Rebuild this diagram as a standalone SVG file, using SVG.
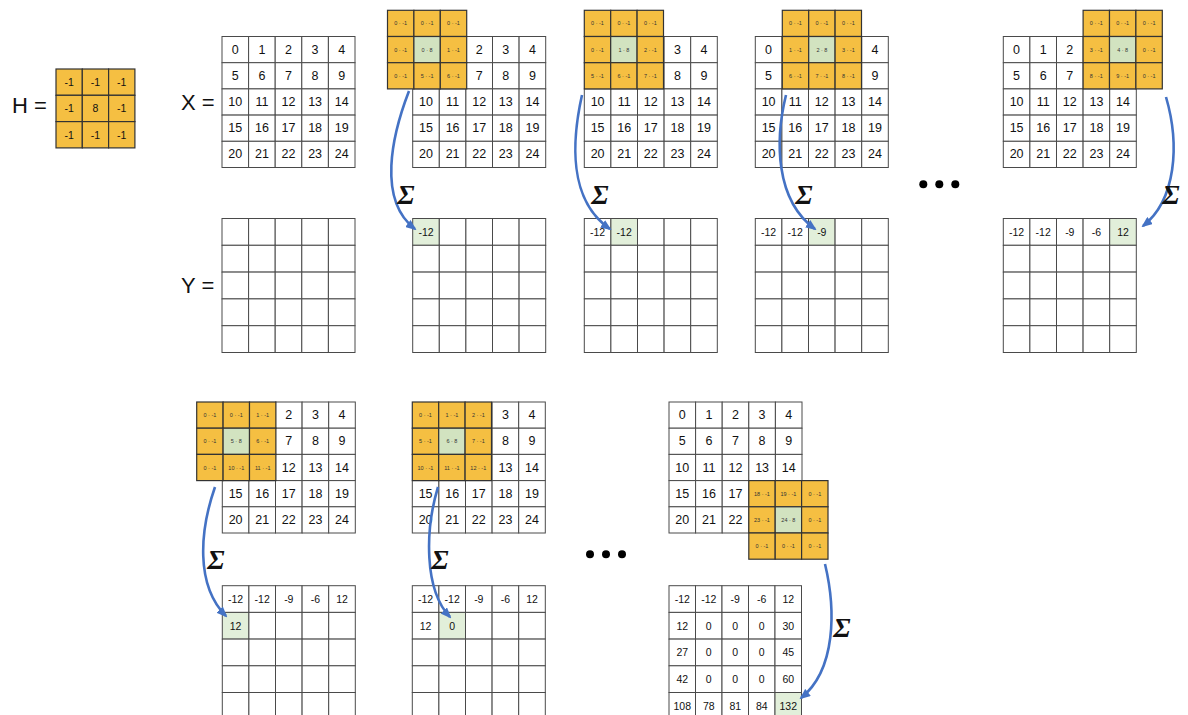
<svg xmlns="http://www.w3.org/2000/svg" width="1188" height="715" viewBox="0 0 1188 715">
<style>
.c{fill:#fff;stroke:#4a4a4a;stroke-width:1}
.g{fill:#E2EFDA;stroke:#4a4a4a;stroke-width:1}
.k{fill:#F5BF42;stroke:#333;stroke-width:1.2}
.kc{fill:#D2E3C0;stroke:#333;stroke-width:1.2}
text{font-family:"Liberation Sans",Arial,sans-serif;fill:#111;text-anchor:middle;dominant-baseline:central}
.n{font-size:12.5px}
.y{font-size:10.5px}
.s{font-size:5.5px;fill:#333}
.eq{font-size:22px;text-anchor:start;dominant-baseline:auto}
.sig{font-family:"Liberation Serif","Times New Roman",serif;font-style:italic;font-weight:bold;font-size:28px;dominant-baseline:auto}
.a{fill:none;stroke:#4472C4;stroke-width:2.6;marker-end:url(#ah)}
.dot{fill:#000}
</style>
<defs>
<marker id="ah" markerWidth="11" markerHeight="9" refX="9" refY="4.5" orient="auto" markerUnits="userSpaceOnUse"><path d="M0,0 L11,4.5 L0,9 z" fill="#4472C4"/></marker>
</defs>

<!-- labels -->
<text class="eq" x="12" y="113">H =</text>
<text class="eq" x="181" y="110">X =</text>
<text class="eq" x="181" y="293">Y =</text>

<!-- H kernel -->
<g id="H" transform="translate(56,69)">
<rect class="k" x="0" y="0" width="26.3" height="26.3"/><rect class="k" x="26.3" y="0" width="26.3" height="26.3"/><rect class="k" x="52.6" y="0" width="26.3" height="26.3"/>
<rect class="k" x="0" y="26.3" width="26.3" height="26.3"/><rect class="k" x="26.3" y="26.3" width="26.3" height="26.3"/><rect class="k" x="52.6" y="26.3" width="26.3" height="26.3"/>
<rect class="k" x="0" y="52.6" width="26.3" height="26.3"/><rect class="k" x="26.3" y="52.6" width="26.3" height="26.3"/><rect class="k" x="52.6" y="52.6" width="26.3" height="26.3"/>
<text class="y" x="13.15" y="13.15">-1</text><text class="y" x="39.45" y="13.15">-1</text><text class="y" x="65.75" y="13.15">-1</text>
<text class="y" x="13.15" y="39.45">-1</text><text class="y" x="39.45" y="39.45">8</text><text class="y" x="65.75" y="39.45">-1</text>
<text class="y" x="13.15" y="65.75">-1</text><text class="y" x="39.45" y="65.75">-1</text><text class="y" x="65.75" y="65.75">-1</text>
</g>

<!-- X main -->
<g id="X0" transform="translate(222,36.5)">
<rect class="c" x="0" y="0" width="26.6" height="26.2"/><rect class="c" x="26.6" y="0" width="26.6" height="26.2"/><rect class="c" x="53.2" y="0" width="26.6" height="26.2"/><rect class="c" x="79.8" y="0" width="26.6" height="26.2"/><rect class="c" x="106.4" y="0" width="26.6" height="26.2"/>
<rect class="c" x="0" y="26.2" width="26.6" height="26.2"/><rect class="c" x="26.6" y="26.2" width="26.6" height="26.2"/><rect class="c" x="53.2" y="26.2" width="26.6" height="26.2"/><rect class="c" x="79.8" y="26.2" width="26.6" height="26.2"/><rect class="c" x="106.4" y="26.2" width="26.6" height="26.2"/>
<rect class="c" x="0" y="52.4" width="26.6" height="26.2"/><rect class="c" x="26.6" y="52.4" width="26.6" height="26.2"/><rect class="c" x="53.2" y="52.4" width="26.6" height="26.2"/><rect class="c" x="79.8" y="52.4" width="26.6" height="26.2"/><rect class="c" x="106.4" y="52.4" width="26.6" height="26.2"/>
<rect class="c" x="0" y="78.6" width="26.6" height="26.2"/><rect class="c" x="26.6" y="78.6" width="26.6" height="26.2"/><rect class="c" x="53.2" y="78.6" width="26.6" height="26.2"/><rect class="c" x="79.8" y="78.6" width="26.6" height="26.2"/><rect class="c" x="106.4" y="78.6" width="26.6" height="26.2"/>
<rect class="c" x="0" y="104.8" width="26.6" height="26.2"/><rect class="c" x="26.6" y="104.8" width="26.6" height="26.2"/><rect class="c" x="53.2" y="104.8" width="26.6" height="26.2"/><rect class="c" x="79.8" y="104.8" width="26.6" height="26.2"/><rect class="c" x="106.4" y="104.8" width="26.6" height="26.2"/>
<text class="n" x="13.3" y="13.1">0</text><text class="n" x="39.9" y="13.1">1</text><text class="n" x="66.5" y="13.1">2</text><text class="n" x="93.1" y="13.1">3</text><text class="n" x="119.7" y="13.1">4</text>
<text class="n" x="13.3" y="39.3">5</text><text class="n" x="39.9" y="39.3">6</text><text class="n" x="66.5" y="39.3">7</text><text class="n" x="93.1" y="39.3">8</text><text class="n" x="119.7" y="39.3">9</text>
<text class="n" x="13.3" y="65.5">10</text><text class="n" x="39.9" y="65.5">11</text><text class="n" x="66.5" y="65.5">12</text><text class="n" x="93.1" y="65.5">13</text><text class="n" x="119.7" y="65.5">14</text>
<text class="n" x="13.3" y="91.7">15</text><text class="n" x="39.9" y="91.7">16</text><text class="n" x="66.5" y="91.7">17</text><text class="n" x="93.1" y="91.7">18</text><text class="n" x="119.7" y="91.7">19</text>
<text class="n" x="13.3" y="117.9">20</text><text class="n" x="39.9" y="117.9">21</text><text class="n" x="66.5" y="117.9">22</text><text class="n" x="93.1" y="117.9">23</text><text class="n" x="119.7" y="117.9">24</text>
</g>

<!-- X panel 1 -->
<g id="X1" transform="translate(412.7,36.5)">
<rect class="c" x="53.2" y="0" width="26.6" height="26.2"/><rect class="c" x="79.8" y="0" width="26.6" height="26.2"/><rect class="c" x="106.4" y="0" width="26.6" height="26.2"/>
<rect class="c" x="53.2" y="26.2" width="26.6" height="26.2"/><rect class="c" x="79.8" y="26.2" width="26.6" height="26.2"/><rect class="c" x="106.4" y="26.2" width="26.6" height="26.2"/>
<rect class="c" x="0" y="52.4" width="26.6" height="26.2"/><rect class="c" x="26.6" y="52.4" width="26.6" height="26.2"/><rect class="c" x="53.2" y="52.4" width="26.6" height="26.2"/><rect class="c" x="79.8" y="52.4" width="26.6" height="26.2"/><rect class="c" x="106.4" y="52.4" width="26.6" height="26.2"/>
<rect class="c" x="0" y="78.6" width="26.6" height="26.2"/><rect class="c" x="26.6" y="78.6" width="26.6" height="26.2"/><rect class="c" x="53.2" y="78.6" width="26.6" height="26.2"/><rect class="c" x="79.8" y="78.6" width="26.6" height="26.2"/><rect class="c" x="106.4" y="78.6" width="26.6" height="26.2"/>
<rect class="c" x="0" y="104.8" width="26.6" height="26.2"/><rect class="c" x="26.6" y="104.8" width="26.6" height="26.2"/><rect class="c" x="53.2" y="104.8" width="26.6" height="26.2"/><rect class="c" x="79.8" y="104.8" width="26.6" height="26.2"/><rect class="c" x="106.4" y="104.8" width="26.6" height="26.2"/>
<text class="n" x="66.5" y="13.1">2</text><text class="n" x="93.1" y="13.1">3</text><text class="n" x="119.7" y="13.1">4</text>
<text class="n" x="66.5" y="39.3">7</text><text class="n" x="93.1" y="39.3">8</text><text class="n" x="119.7" y="39.3">9</text>
<text class="n" x="13.3" y="65.5">10</text><text class="n" x="39.9" y="65.5">11</text><text class="n" x="66.5" y="65.5">12</text><text class="n" x="93.1" y="65.5">13</text><text class="n" x="119.7" y="65.5">14</text>
<text class="n" x="13.3" y="91.7">15</text><text class="n" x="39.9" y="91.7">16</text><text class="n" x="66.5" y="91.7">17</text><text class="n" x="93.1" y="91.7">18</text><text class="n" x="119.7" y="91.7">19</text>
<text class="n" x="13.3" y="117.9">20</text><text class="n" x="39.9" y="117.9">21</text><text class="n" x="66.5" y="117.9">22</text><text class="n" x="93.1" y="117.9">23</text><text class="n" x="119.7" y="117.9">24</text>
</g>
<g id="K1" transform="translate(387.5,10.3)">
<rect class="k" x="0" y="0" width="26.4" height="26.2"/><rect class="k" x="26.4" y="0" width="26.4" height="26.2"/><rect class="k" x="52.8" y="0" width="26.4" height="26.2"/>
<rect class="k" x="0" y="26.2" width="26.4" height="26.2"/><rect class="kc" x="26.4" y="26.2" width="26.4" height="26.2"/><rect class="k" x="52.8" y="26.2" width="26.4" height="26.2"/>
<rect class="k" x="0" y="52.4" width="26.4" height="26.2"/><rect class="k" x="26.4" y="52.4" width="26.4" height="26.2"/><rect class="k" x="52.8" y="52.4" width="26.4" height="26.2"/>
<text class="s" x="13.2" y="13.1">0 · -1</text><text class="s" x="39.6" y="13.1">0 · -1</text><text class="s" x="66" y="13.1">0 · -1</text>
<text class="s" x="13.2" y="39.3">0 · -1</text><text class="s" x="39.6" y="39.3">0 · 8</text><text class="s" x="66" y="39.3">1 · -1</text>
<text class="s" x="13.2" y="65.5">0 · -1</text><text class="s" x="39.6" y="65.5">5 · -1</text><text class="s" x="66" y="65.5">6 · -1</text>
</g>

<!-- X panel 2 -->
<g id="X2" transform="translate(584.3,36.5)">
<rect class="c" x="79.8" y="0" width="26.6" height="26.2"/><rect class="c" x="106.4" y="0" width="26.6" height="26.2"/>
<rect class="c" x="79.8" y="26.2" width="26.6" height="26.2"/><rect class="c" x="106.4" y="26.2" width="26.6" height="26.2"/>
<rect class="c" x="0" y="52.4" width="26.6" height="26.2"/><rect class="c" x="26.6" y="52.4" width="26.6" height="26.2"/><rect class="c" x="53.2" y="52.4" width="26.6" height="26.2"/><rect class="c" x="79.8" y="52.4" width="26.6" height="26.2"/><rect class="c" x="106.4" y="52.4" width="26.6" height="26.2"/>
<rect class="c" x="0" y="78.6" width="26.6" height="26.2"/><rect class="c" x="26.6" y="78.6" width="26.6" height="26.2"/><rect class="c" x="53.2" y="78.6" width="26.6" height="26.2"/><rect class="c" x="79.8" y="78.6" width="26.6" height="26.2"/><rect class="c" x="106.4" y="78.6" width="26.6" height="26.2"/>
<rect class="c" x="0" y="104.8" width="26.6" height="26.2"/><rect class="c" x="26.6" y="104.8" width="26.6" height="26.2"/><rect class="c" x="53.2" y="104.8" width="26.6" height="26.2"/><rect class="c" x="79.8" y="104.8" width="26.6" height="26.2"/><rect class="c" x="106.4" y="104.8" width="26.6" height="26.2"/>
<text class="n" x="93.1" y="13.1">3</text><text class="n" x="119.7" y="13.1">4</text>
<text class="n" x="93.1" y="39.3">8</text><text class="n" x="119.7" y="39.3">9</text>
<text class="n" x="13.3" y="65.5">10</text><text class="n" x="39.9" y="65.5">11</text><text class="n" x="66.5" y="65.5">12</text><text class="n" x="93.1" y="65.5">13</text><text class="n" x="119.7" y="65.5">14</text>
<text class="n" x="13.3" y="91.7">15</text><text class="n" x="39.9" y="91.7">16</text><text class="n" x="66.5" y="91.7">17</text><text class="n" x="93.1" y="91.7">18</text><text class="n" x="119.7" y="91.7">19</text>
<text class="n" x="13.3" y="117.9">20</text><text class="n" x="39.9" y="117.9">21</text><text class="n" x="66.5" y="117.9">22</text><text class="n" x="93.1" y="117.9">23</text><text class="n" x="119.7" y="117.9">24</text>
</g>
<g id="K2" transform="translate(584.3,10.3)">
<rect class="k" x="0" y="0" width="26.4" height="26.2"/><rect class="k" x="26.4" y="0" width="26.4" height="26.2"/><rect class="k" x="52.8" y="0" width="26.4" height="26.2"/>
<rect class="k" x="0" y="26.2" width="26.4" height="26.2"/><rect class="kc" x="26.4" y="26.2" width="26.4" height="26.2"/><rect class="k" x="52.8" y="26.2" width="26.4" height="26.2"/>
<rect class="k" x="0" y="52.4" width="26.4" height="26.2"/><rect class="k" x="26.4" y="52.4" width="26.4" height="26.2"/><rect class="k" x="52.8" y="52.4" width="26.4" height="26.2"/>
<text class="s" x="13.2" y="13.1">0 · -1</text><text class="s" x="39.6" y="13.1">0 · -1</text><text class="s" x="66" y="13.1">0 · -1</text>
<text class="s" x="13.2" y="39.3">0 · -1</text><text class="s" x="39.6" y="39.3">1 · 8</text><text class="s" x="66" y="39.3">2 · -1</text>
<text class="s" x="13.2" y="65.5">5 · -1</text><text class="s" x="39.6" y="65.5">6 · -1</text><text class="s" x="66" y="65.5">7 · -1</text>
</g>

<!-- X panel 3 -->
<g id="X3" transform="translate(755.3,36.5)">
<rect class="c" x="0" y="0" width="26.6" height="26.2"/><rect class="c" x="106.4" y="0" width="26.6" height="26.2"/>
<rect class="c" x="0" y="26.2" width="26.6" height="26.2"/><rect class="c" x="106.4" y="26.2" width="26.6" height="26.2"/>
<rect class="c" x="0" y="52.4" width="26.6" height="26.2"/><rect class="c" x="26.6" y="52.4" width="26.6" height="26.2"/><rect class="c" x="53.2" y="52.4" width="26.6" height="26.2"/><rect class="c" x="79.8" y="52.4" width="26.6" height="26.2"/><rect class="c" x="106.4" y="52.4" width="26.6" height="26.2"/>
<rect class="c" x="0" y="78.6" width="26.6" height="26.2"/><rect class="c" x="26.6" y="78.6" width="26.6" height="26.2"/><rect class="c" x="53.2" y="78.6" width="26.6" height="26.2"/><rect class="c" x="79.8" y="78.6" width="26.6" height="26.2"/><rect class="c" x="106.4" y="78.6" width="26.6" height="26.2"/>
<rect class="c" x="0" y="104.8" width="26.6" height="26.2"/><rect class="c" x="26.6" y="104.8" width="26.6" height="26.2"/><rect class="c" x="53.2" y="104.8" width="26.6" height="26.2"/><rect class="c" x="79.8" y="104.8" width="26.6" height="26.2"/><rect class="c" x="106.4" y="104.8" width="26.6" height="26.2"/>
<text class="n" x="13.3" y="13.1">0</text><text class="n" x="119.7" y="13.1">4</text>
<text class="n" x="13.3" y="39.3">5</text><text class="n" x="119.7" y="39.3">9</text>
<text class="n" x="13.3" y="65.5">10</text><text class="n" x="39.9" y="65.5">11</text><text class="n" x="66.5" y="65.5">12</text><text class="n" x="93.1" y="65.5">13</text><text class="n" x="119.7" y="65.5">14</text>
<text class="n" x="13.3" y="91.7">15</text><text class="n" x="39.9" y="91.7">16</text><text class="n" x="66.5" y="91.7">17</text><text class="n" x="93.1" y="91.7">18</text><text class="n" x="119.7" y="91.7">19</text>
<text class="n" x="13.3" y="117.9">20</text><text class="n" x="39.9" y="117.9">21</text><text class="n" x="66.5" y="117.9">22</text><text class="n" x="93.1" y="117.9">23</text><text class="n" x="119.7" y="117.9">24</text>
</g>
<g id="K3" transform="translate(782.3,10.3)">
<rect class="k" x="0" y="0" width="26.4" height="26.2"/><rect class="k" x="26.4" y="0" width="26.4" height="26.2"/><rect class="k" x="52.8" y="0" width="26.4" height="26.2"/>
<rect class="k" x="0" y="26.2" width="26.4" height="26.2"/><rect class="kc" x="26.4" y="26.2" width="26.4" height="26.2"/><rect class="k" x="52.8" y="26.2" width="26.4" height="26.2"/>
<rect class="k" x="0" y="52.4" width="26.4" height="26.2"/><rect class="k" x="26.4" y="52.4" width="26.4" height="26.2"/><rect class="k" x="52.8" y="52.4" width="26.4" height="26.2"/>
<text class="s" x="13.2" y="13.1">0 · -1</text><text class="s" x="39.6" y="13.1">0 · -1</text><text class="s" x="66" y="13.1">0 · -1</text>
<text class="s" x="13.2" y="39.3">1 · -1</text><text class="s" x="39.6" y="39.3">2 · 8</text><text class="s" x="66" y="39.3">3 · -1</text>
<text class="s" x="13.2" y="65.5">6 · -1</text><text class="s" x="39.6" y="65.5">7 · -1</text><text class="s" x="66" y="65.5">8 · -1</text>
</g>

<!-- X panel 4 -->
<g id="X4" transform="translate(1003.3,36.5)">
<rect class="c" x="0" y="0" width="26.6" height="26.2"/><rect class="c" x="26.6" y="0" width="26.6" height="26.2"/><rect class="c" x="53.2" y="0" width="26.6" height="26.2"/>
<rect class="c" x="0" y="26.2" width="26.6" height="26.2"/><rect class="c" x="26.6" y="26.2" width="26.6" height="26.2"/><rect class="c" x="53.2" y="26.2" width="26.6" height="26.2"/>
<rect class="c" x="0" y="52.4" width="26.6" height="26.2"/><rect class="c" x="26.6" y="52.4" width="26.6" height="26.2"/><rect class="c" x="53.2" y="52.4" width="26.6" height="26.2"/><rect class="c" x="79.8" y="52.4" width="26.6" height="26.2"/><rect class="c" x="106.4" y="52.4" width="26.6" height="26.2"/>
<rect class="c" x="0" y="78.6" width="26.6" height="26.2"/><rect class="c" x="26.6" y="78.6" width="26.6" height="26.2"/><rect class="c" x="53.2" y="78.6" width="26.6" height="26.2"/><rect class="c" x="79.8" y="78.6" width="26.6" height="26.2"/><rect class="c" x="106.4" y="78.6" width="26.6" height="26.2"/>
<rect class="c" x="0" y="104.8" width="26.6" height="26.2"/><rect class="c" x="26.6" y="104.8" width="26.6" height="26.2"/><rect class="c" x="53.2" y="104.8" width="26.6" height="26.2"/><rect class="c" x="79.8" y="104.8" width="26.6" height="26.2"/><rect class="c" x="106.4" y="104.8" width="26.6" height="26.2"/>
<text class="n" x="13.3" y="13.1">0</text><text class="n" x="39.9" y="13.1">1</text><text class="n" x="66.5" y="13.1">2</text>
<text class="n" x="13.3" y="39.3">5</text><text class="n" x="39.9" y="39.3">6</text><text class="n" x="66.5" y="39.3">7</text>
<text class="n" x="13.3" y="65.5">10</text><text class="n" x="39.9" y="65.5">11</text><text class="n" x="66.5" y="65.5">12</text><text class="n" x="93.1" y="65.5">13</text><text class="n" x="119.7" y="65.5">14</text>
<text class="n" x="13.3" y="91.7">15</text><text class="n" x="39.9" y="91.7">16</text><text class="n" x="66.5" y="91.7">17</text><text class="n" x="93.1" y="91.7">18</text><text class="n" x="119.7" y="91.7">19</text>
<text class="n" x="13.3" y="117.9">20</text><text class="n" x="39.9" y="117.9">21</text><text class="n" x="66.5" y="117.9">22</text><text class="n" x="93.1" y="117.9">23</text><text class="n" x="119.7" y="117.9">24</text>
</g>
<g id="K4" transform="translate(1083.1,10.3)">
<rect class="k" x="0" y="0" width="26.4" height="26.2"/><rect class="k" x="26.4" y="0" width="26.4" height="26.2"/><rect class="k" x="52.8" y="0" width="26.4" height="26.2"/>
<rect class="k" x="0" y="26.2" width="26.4" height="26.2"/><rect class="kc" x="26.4" y="26.2" width="26.4" height="26.2"/><rect class="k" x="52.8" y="26.2" width="26.4" height="26.2"/>
<rect class="k" x="0" y="52.4" width="26.4" height="26.2"/><rect class="k" x="26.4" y="52.4" width="26.4" height="26.2"/><rect class="k" x="52.8" y="52.4" width="26.4" height="26.2"/>
<text class="s" x="13.2" y="13.1">0 · -1</text><text class="s" x="39.6" y="13.1">0 · -1</text><text class="s" x="66" y="13.1">0 · -1</text>
<text class="s" x="13.2" y="39.3">3 · -1</text><text class="s" x="39.6" y="39.3">4 · 8</text><text class="s" x="66" y="39.3">0 · -1</text>
<text class="s" x="13.2" y="65.5">8 · -1</text><text class="s" x="39.6" y="65.5">9 · -1</text><text class="s" x="66" y="65.5">0 · -1</text>
</g>

<!-- Y grids top -->
<g id="Y0" transform="translate(222,218.5)">
<rect class="c" x="0" y="0" width="26.6" height="26.8"/><rect class="c" x="26.6" y="0" width="26.6" height="26.8"/><rect class="c" x="53.2" y="0" width="26.6" height="26.8"/><rect class="c" x="79.8" y="0" width="26.6" height="26.8"/><rect class="c" x="106.4" y="0" width="26.6" height="26.8"/>
<rect class="c" x="0" y="26.8" width="26.6" height="26.8"/><rect class="c" x="26.6" y="26.8" width="26.6" height="26.8"/><rect class="c" x="53.2" y="26.8" width="26.6" height="26.8"/><rect class="c" x="79.8" y="26.8" width="26.6" height="26.8"/><rect class="c" x="106.4" y="26.8" width="26.6" height="26.8"/>
<rect class="c" x="0" y="53.6" width="26.6" height="26.8"/><rect class="c" x="26.6" y="53.6" width="26.6" height="26.8"/><rect class="c" x="53.2" y="53.6" width="26.6" height="26.8"/><rect class="c" x="79.8" y="53.6" width="26.6" height="26.8"/><rect class="c" x="106.4" y="53.6" width="26.6" height="26.8"/>
<rect class="c" x="0" y="80.4" width="26.6" height="26.8"/><rect class="c" x="26.6" y="80.4" width="26.6" height="26.8"/><rect class="c" x="53.2" y="80.4" width="26.6" height="26.8"/><rect class="c" x="79.8" y="80.4" width="26.6" height="26.8"/><rect class="c" x="106.4" y="80.4" width="26.6" height="26.8"/>
<rect class="c" x="0" y="107.2" width="26.6" height="26.8"/><rect class="c" x="26.6" y="107.2" width="26.6" height="26.8"/><rect class="c" x="53.2" y="107.2" width="26.6" height="26.8"/><rect class="c" x="79.8" y="107.2" width="26.6" height="26.8"/><rect class="c" x="106.4" y="107.2" width="26.6" height="26.8"/>
</g>
<g id="Y1" transform="translate(412.7,218.5)">
<rect class="g" x="0" y="0" width="26.6" height="26.8"/><rect class="c" x="26.6" y="0" width="26.6" height="26.8"/><rect class="c" x="53.2" y="0" width="26.6" height="26.8"/><rect class="c" x="79.8" y="0" width="26.6" height="26.8"/><rect class="c" x="106.4" y="0" width="26.6" height="26.8"/>
<rect class="c" x="0" y="26.8" width="26.6" height="26.8"/><rect class="c" x="26.6" y="26.8" width="26.6" height="26.8"/><rect class="c" x="53.2" y="26.8" width="26.6" height="26.8"/><rect class="c" x="79.8" y="26.8" width="26.6" height="26.8"/><rect class="c" x="106.4" y="26.8" width="26.6" height="26.8"/>
<rect class="c" x="0" y="53.6" width="26.6" height="26.8"/><rect class="c" x="26.6" y="53.6" width="26.6" height="26.8"/><rect class="c" x="53.2" y="53.6" width="26.6" height="26.8"/><rect class="c" x="79.8" y="53.6" width="26.6" height="26.8"/><rect class="c" x="106.4" y="53.6" width="26.6" height="26.8"/>
<rect class="c" x="0" y="80.4" width="26.6" height="26.8"/><rect class="c" x="26.6" y="80.4" width="26.6" height="26.8"/><rect class="c" x="53.2" y="80.4" width="26.6" height="26.8"/><rect class="c" x="79.8" y="80.4" width="26.6" height="26.8"/><rect class="c" x="106.4" y="80.4" width="26.6" height="26.8"/>
<rect class="c" x="0" y="107.2" width="26.6" height="26.8"/><rect class="c" x="26.6" y="107.2" width="26.6" height="26.8"/><rect class="c" x="53.2" y="107.2" width="26.6" height="26.8"/><rect class="c" x="79.8" y="107.2" width="26.6" height="26.8"/><rect class="c" x="106.4" y="107.2" width="26.6" height="26.8"/>
<text class="y" x="13.3" y="13.4">-12</text>
</g>
<g id="Y2" transform="translate(584.3,218.5)">
<rect class="c" x="0" y="0" width="26.6" height="26.8"/><rect class="g" x="26.6" y="0" width="26.6" height="26.8"/><rect class="c" x="53.2" y="0" width="26.6" height="26.8"/><rect class="c" x="79.8" y="0" width="26.6" height="26.8"/><rect class="c" x="106.4" y="0" width="26.6" height="26.8"/>
<rect class="c" x="0" y="26.8" width="26.6" height="26.8"/><rect class="c" x="26.6" y="26.8" width="26.6" height="26.8"/><rect class="c" x="53.2" y="26.8" width="26.6" height="26.8"/><rect class="c" x="79.8" y="26.8" width="26.6" height="26.8"/><rect class="c" x="106.4" y="26.8" width="26.6" height="26.8"/>
<rect class="c" x="0" y="53.6" width="26.6" height="26.8"/><rect class="c" x="26.6" y="53.6" width="26.6" height="26.8"/><rect class="c" x="53.2" y="53.6" width="26.6" height="26.8"/><rect class="c" x="79.8" y="53.6" width="26.6" height="26.8"/><rect class="c" x="106.4" y="53.6" width="26.6" height="26.8"/>
<rect class="c" x="0" y="80.4" width="26.6" height="26.8"/><rect class="c" x="26.6" y="80.4" width="26.6" height="26.8"/><rect class="c" x="53.2" y="80.4" width="26.6" height="26.8"/><rect class="c" x="79.8" y="80.4" width="26.6" height="26.8"/><rect class="c" x="106.4" y="80.4" width="26.6" height="26.8"/>
<rect class="c" x="0" y="107.2" width="26.6" height="26.8"/><rect class="c" x="26.6" y="107.2" width="26.6" height="26.8"/><rect class="c" x="53.2" y="107.2" width="26.6" height="26.8"/><rect class="c" x="79.8" y="107.2" width="26.6" height="26.8"/><rect class="c" x="106.4" y="107.2" width="26.6" height="26.8"/>
<text class="y" x="13.3" y="13.4">-12</text><text class="y" x="39.9" y="13.4">-12</text>
</g>
<g id="Y3" transform="translate(755.3,218.5)">
<rect class="c" x="0" y="0" width="26.6" height="26.8"/><rect class="c" x="26.6" y="0" width="26.6" height="26.8"/><rect class="g" x="53.2" y="0" width="26.6" height="26.8"/><rect class="c" x="79.8" y="0" width="26.6" height="26.8"/><rect class="c" x="106.4" y="0" width="26.6" height="26.8"/>
<rect class="c" x="0" y="26.8" width="26.6" height="26.8"/><rect class="c" x="26.6" y="26.8" width="26.6" height="26.8"/><rect class="c" x="53.2" y="26.8" width="26.6" height="26.8"/><rect class="c" x="79.8" y="26.8" width="26.6" height="26.8"/><rect class="c" x="106.4" y="26.8" width="26.6" height="26.8"/>
<rect class="c" x="0" y="53.6" width="26.6" height="26.8"/><rect class="c" x="26.6" y="53.6" width="26.6" height="26.8"/><rect class="c" x="53.2" y="53.6" width="26.6" height="26.8"/><rect class="c" x="79.8" y="53.6" width="26.6" height="26.8"/><rect class="c" x="106.4" y="53.6" width="26.6" height="26.8"/>
<rect class="c" x="0" y="80.4" width="26.6" height="26.8"/><rect class="c" x="26.6" y="80.4" width="26.6" height="26.8"/><rect class="c" x="53.2" y="80.4" width="26.6" height="26.8"/><rect class="c" x="79.8" y="80.4" width="26.6" height="26.8"/><rect class="c" x="106.4" y="80.4" width="26.6" height="26.8"/>
<rect class="c" x="0" y="107.2" width="26.6" height="26.8"/><rect class="c" x="26.6" y="107.2" width="26.6" height="26.8"/><rect class="c" x="53.2" y="107.2" width="26.6" height="26.8"/><rect class="c" x="79.8" y="107.2" width="26.6" height="26.8"/><rect class="c" x="106.4" y="107.2" width="26.6" height="26.8"/>
<text class="y" x="13.3" y="13.4">-12</text><text class="y" x="39.9" y="13.4">-12</text><text class="y" x="66.5" y="13.4">-9</text>
</g>
<g id="Y4" transform="translate(1003.3,218.5)">
<rect class="c" x="0" y="0" width="26.6" height="26.8"/><rect class="c" x="26.6" y="0" width="26.6" height="26.8"/><rect class="c" x="53.2" y="0" width="26.6" height="26.8"/><rect class="c" x="79.8" y="0" width="26.6" height="26.8"/><rect class="g" x="106.4" y="0" width="26.6" height="26.8"/>
<rect class="c" x="0" y="26.8" width="26.6" height="26.8"/><rect class="c" x="26.6" y="26.8" width="26.6" height="26.8"/><rect class="c" x="53.2" y="26.8" width="26.6" height="26.8"/><rect class="c" x="79.8" y="26.8" width="26.6" height="26.8"/><rect class="c" x="106.4" y="26.8" width="26.6" height="26.8"/>
<rect class="c" x="0" y="53.6" width="26.6" height="26.8"/><rect class="c" x="26.6" y="53.6" width="26.6" height="26.8"/><rect class="c" x="53.2" y="53.6" width="26.6" height="26.8"/><rect class="c" x="79.8" y="53.6" width="26.6" height="26.8"/><rect class="c" x="106.4" y="53.6" width="26.6" height="26.8"/>
<rect class="c" x="0" y="80.4" width="26.6" height="26.8"/><rect class="c" x="26.6" y="80.4" width="26.6" height="26.8"/><rect class="c" x="53.2" y="80.4" width="26.6" height="26.8"/><rect class="c" x="79.8" y="80.4" width="26.6" height="26.8"/><rect class="c" x="106.4" y="80.4" width="26.6" height="26.8"/>
<rect class="c" x="0" y="107.2" width="26.6" height="26.8"/><rect class="c" x="26.6" y="107.2" width="26.6" height="26.8"/><rect class="c" x="53.2" y="107.2" width="26.6" height="26.8"/><rect class="c" x="79.8" y="107.2" width="26.6" height="26.8"/><rect class="c" x="106.4" y="107.2" width="26.6" height="26.8"/>
<text class="y" x="13.3" y="13.4">-12</text><text class="y" x="39.9" y="13.4">-12</text><text class="y" x="66.5" y="13.4">-9</text><text class="y" x="93.1" y="13.4">-6</text><text class="y" x="119.7" y="13.4">12</text>
</g>

<!-- bottom X panel 5 -->
<g id="X5" transform="translate(222.3,402)">
<rect class="c" x="53.2" y="0" width="26.6" height="26.2"/><rect class="c" x="79.8" y="0" width="26.6" height="26.2"/><rect class="c" x="106.4" y="0" width="26.6" height="26.2"/>
<rect class="c" x="53.2" y="26.2" width="26.6" height="26.2"/><rect class="c" x="79.8" y="26.2" width="26.6" height="26.2"/><rect class="c" x="106.4" y="26.2" width="26.6" height="26.2"/>
<rect class="c" x="53.2" y="52.4" width="26.6" height="26.2"/><rect class="c" x="79.8" y="52.4" width="26.6" height="26.2"/><rect class="c" x="106.4" y="52.4" width="26.6" height="26.2"/>
<rect class="c" x="0" y="78.6" width="26.6" height="26.2"/><rect class="c" x="26.6" y="78.6" width="26.6" height="26.2"/><rect class="c" x="53.2" y="78.6" width="26.6" height="26.2"/><rect class="c" x="79.8" y="78.6" width="26.6" height="26.2"/><rect class="c" x="106.4" y="78.6" width="26.6" height="26.2"/>
<rect class="c" x="0" y="104.8" width="26.6" height="26.2"/><rect class="c" x="26.6" y="104.8" width="26.6" height="26.2"/><rect class="c" x="53.2" y="104.8" width="26.6" height="26.2"/><rect class="c" x="79.8" y="104.8" width="26.6" height="26.2"/><rect class="c" x="106.4" y="104.8" width="26.6" height="26.2"/>
<text class="n" x="66.5" y="13.1">2</text><text class="n" x="93.1" y="13.1">3</text><text class="n" x="119.7" y="13.1">4</text>
<text class="n" x="66.5" y="39.3">7</text><text class="n" x="93.1" y="39.3">8</text><text class="n" x="119.7" y="39.3">9</text>
<text class="n" x="66.5" y="65.5">12</text><text class="n" x="93.1" y="65.5">13</text><text class="n" x="119.7" y="65.5">14</text>
<text class="n" x="13.3" y="91.7">15</text><text class="n" x="39.9" y="91.7">16</text><text class="n" x="66.5" y="91.7">17</text><text class="n" x="93.1" y="91.7">18</text><text class="n" x="119.7" y="91.7">19</text>
<text class="n" x="13.3" y="117.9">20</text><text class="n" x="39.9" y="117.9">21</text><text class="n" x="66.5" y="117.9">22</text><text class="n" x="93.1" y="117.9">23</text><text class="n" x="119.7" y="117.9">24</text>
</g>
<g id="K5" transform="translate(196.7,402)">
<rect class="k" x="0" y="0" width="26.4" height="26.2"/><rect class="k" x="26.4" y="0" width="26.4" height="26.2"/><rect class="k" x="52.8" y="0" width="26.4" height="26.2"/>
<rect class="k" x="0" y="26.2" width="26.4" height="26.2"/><rect class="kc" x="26.4" y="26.2" width="26.4" height="26.2"/><rect class="k" x="52.8" y="26.2" width="26.4" height="26.2"/>
<rect class="k" x="0" y="52.4" width="26.4" height="26.2"/><rect class="k" x="26.4" y="52.4" width="26.4" height="26.2"/><rect class="k" x="52.8" y="52.4" width="26.4" height="26.2"/>
<text class="s" x="13.2" y="13.1">0 · -1</text><text class="s" x="39.6" y="13.1">0 · -1</text><text class="s" x="66" y="13.1">1 · -1</text>
<text class="s" x="13.2" y="39.3">0 · -1</text><text class="s" x="39.6" y="39.3">5 · 8</text><text class="s" x="66" y="39.3">6 · -1</text>
<text class="s" x="13.2" y="65.5">0 · -1</text><text class="s" x="39.6" y="65.5">10 · -1</text><text class="s" x="66" y="65.5">11 · -1</text>
</g>

<!-- bottom X panel 6 -->
<g id="X6" transform="translate(412.3,402)">
<rect class="c" x="79.8" y="0" width="26.6" height="26.2"/><rect class="c" x="106.4" y="0" width="26.6" height="26.2"/>
<rect class="c" x="79.8" y="26.2" width="26.6" height="26.2"/><rect class="c" x="106.4" y="26.2" width="26.6" height="26.2"/>
<rect class="c" x="79.8" y="52.4" width="26.6" height="26.2"/><rect class="c" x="106.4" y="52.4" width="26.6" height="26.2"/>
<rect class="c" x="0" y="78.6" width="26.6" height="26.2"/><rect class="c" x="26.6" y="78.6" width="26.6" height="26.2"/><rect class="c" x="53.2" y="78.6" width="26.6" height="26.2"/><rect class="c" x="79.8" y="78.6" width="26.6" height="26.2"/><rect class="c" x="106.4" y="78.6" width="26.6" height="26.2"/>
<rect class="c" x="0" y="104.8" width="26.6" height="26.2"/><rect class="c" x="26.6" y="104.8" width="26.6" height="26.2"/><rect class="c" x="53.2" y="104.8" width="26.6" height="26.2"/><rect class="c" x="79.8" y="104.8" width="26.6" height="26.2"/><rect class="c" x="106.4" y="104.8" width="26.6" height="26.2"/>
<text class="n" x="93.1" y="13.1">3</text><text class="n" x="119.7" y="13.1">4</text>
<text class="n" x="93.1" y="39.3">8</text><text class="n" x="119.7" y="39.3">9</text>
<text class="n" x="93.1" y="65.5">13</text><text class="n" x="119.7" y="65.5">14</text>
<text class="n" x="13.3" y="91.7">15</text><text class="n" x="39.9" y="91.7">16</text><text class="n" x="66.5" y="91.7">17</text><text class="n" x="93.1" y="91.7">18</text><text class="n" x="119.7" y="91.7">19</text>
<text class="n" x="13.3" y="117.9">20</text><text class="n" x="39.9" y="117.9">21</text><text class="n" x="66.5" y="117.9">22</text><text class="n" x="93.1" y="117.9">23</text><text class="n" x="119.7" y="117.9">24</text>
</g>
<g id="K6" transform="translate(412.3,402)">
<rect class="k" x="0" y="0" width="26.4" height="26.2"/><rect class="k" x="26.4" y="0" width="26.4" height="26.2"/><rect class="k" x="52.8" y="0" width="26.4" height="26.2"/>
<rect class="k" x="0" y="26.2" width="26.4" height="26.2"/><rect class="kc" x="26.4" y="26.2" width="26.4" height="26.2"/><rect class="k" x="52.8" y="26.2" width="26.4" height="26.2"/>
<rect class="k" x="0" y="52.4" width="26.4" height="26.2"/><rect class="k" x="26.4" y="52.4" width="26.4" height="26.2"/><rect class="k" x="52.8" y="52.4" width="26.4" height="26.2"/>
<text class="s" x="13.2" y="13.1">0 · -1</text><text class="s" x="39.6" y="13.1">1 · -1</text><text class="s" x="66" y="13.1">2 · -1</text>
<text class="s" x="13.2" y="39.3">5 · -1</text><text class="s" x="39.6" y="39.3">6 · 8</text><text class="s" x="66" y="39.3">7 · -1</text>
<text class="s" x="13.2" y="65.5">10 · -1</text><text class="s" x="39.6" y="65.5">11 · -1</text><text class="s" x="66" y="65.5">12 · -1</text>
</g>

<!-- bottom X panel 7 -->
<g id="X7" transform="translate(669,402)">
<rect class="c" x="0" y="0" width="26.6" height="26.2"/><rect class="c" x="26.6" y="0" width="26.6" height="26.2"/><rect class="c" x="53.2" y="0" width="26.6" height="26.2"/><rect class="c" x="79.8" y="0" width="26.6" height="26.2"/><rect class="c" x="106.4" y="0" width="26.6" height="26.2"/>
<rect class="c" x="0" y="26.2" width="26.6" height="26.2"/><rect class="c" x="26.6" y="26.2" width="26.6" height="26.2"/><rect class="c" x="53.2" y="26.2" width="26.6" height="26.2"/><rect class="c" x="79.8" y="26.2" width="26.6" height="26.2"/><rect class="c" x="106.4" y="26.2" width="26.6" height="26.2"/>
<rect class="c" x="0" y="52.4" width="26.6" height="26.2"/><rect class="c" x="26.6" y="52.4" width="26.6" height="26.2"/><rect class="c" x="53.2" y="52.4" width="26.6" height="26.2"/><rect class="c" x="79.8" y="52.4" width="26.6" height="26.2"/><rect class="c" x="106.4" y="52.4" width="26.6" height="26.2"/>
<rect class="c" x="0" y="78.6" width="26.6" height="26.2"/><rect class="c" x="26.6" y="78.6" width="26.6" height="26.2"/><rect class="c" x="53.2" y="78.6" width="26.6" height="26.2"/>
<rect class="c" x="0" y="104.8" width="26.6" height="26.2"/><rect class="c" x="26.6" y="104.8" width="26.6" height="26.2"/><rect class="c" x="53.2" y="104.8" width="26.6" height="26.2"/>
<text class="n" x="13.3" y="13.1">0</text><text class="n" x="39.9" y="13.1">1</text><text class="n" x="66.5" y="13.1">2</text><text class="n" x="93.1" y="13.1">3</text><text class="n" x="119.7" y="13.1">4</text>
<text class="n" x="13.3" y="39.3">5</text><text class="n" x="39.9" y="39.3">6</text><text class="n" x="66.5" y="39.3">7</text><text class="n" x="93.1" y="39.3">8</text><text class="n" x="119.7" y="39.3">9</text>
<text class="n" x="13.3" y="65.5">10</text><text class="n" x="39.9" y="65.5">11</text><text class="n" x="66.5" y="65.5">12</text><text class="n" x="93.1" y="65.5">13</text><text class="n" x="119.7" y="65.5">14</text>
<text class="n" x="13.3" y="91.7">15</text><text class="n" x="39.9" y="91.7">16</text><text class="n" x="66.5" y="91.7">17</text>
<text class="n" x="13.3" y="117.9">20</text><text class="n" x="39.9" y="117.9">21</text><text class="n" x="66.5" y="117.9">22</text>
</g>
<g id="K7" transform="translate(748.8,480.6)">
<rect class="k" x="0" y="0" width="26.4" height="26.2"/><rect class="k" x="26.4" y="0" width="26.4" height="26.2"/><rect class="k" x="52.8" y="0" width="26.4" height="26.2"/>
<rect class="k" x="0" y="26.2" width="26.4" height="26.2"/><rect class="kc" x="26.4" y="26.2" width="26.4" height="26.2"/><rect class="k" x="52.8" y="26.2" width="26.4" height="26.2"/>
<rect class="k" x="0" y="52.4" width="26.4" height="26.2"/><rect class="k" x="26.4" y="52.4" width="26.4" height="26.2"/><rect class="k" x="52.8" y="52.4" width="26.4" height="26.2"/>
<text class="s" x="13.2" y="13.1">18 · -1</text><text class="s" x="39.6" y="13.1">19 · -1</text><text class="s" x="66" y="13.1">0 · -1</text>
<text class="s" x="13.2" y="39.3">23 · -1</text><text class="s" x="39.6" y="39.3">24 · 8</text><text class="s" x="66" y="39.3">0 · -1</text>
<text class="s" x="13.2" y="65.5">0 · -1</text><text class="s" x="39.6" y="65.5">0 · -1</text><text class="s" x="66" y="65.5">0 · -1</text>
</g>

<!-- bottom Y grids -->
<g id="Y5" transform="translate(222.3,585.7)">
<rect class="c" x="0" y="0" width="26.6" height="26.7"/><rect class="c" x="26.6" y="0" width="26.6" height="26.7"/><rect class="c" x="53.2" y="0" width="26.6" height="26.7"/><rect class="c" x="79.8" y="0" width="26.6" height="26.7"/><rect class="c" x="106.4" y="0" width="26.6" height="26.7"/>
<rect class="g" x="0" y="26.7" width="26.6" height="26.7"/><rect class="c" x="26.6" y="26.7" width="26.6" height="26.7"/><rect class="c" x="53.2" y="26.7" width="26.6" height="26.7"/><rect class="c" x="79.8" y="26.7" width="26.6" height="26.7"/><rect class="c" x="106.4" y="26.7" width="26.6" height="26.7"/>
<rect class="c" x="0" y="53.4" width="26.6" height="26.7"/><rect class="c" x="26.6" y="53.4" width="26.6" height="26.7"/><rect class="c" x="53.2" y="53.4" width="26.6" height="26.7"/><rect class="c" x="79.8" y="53.4" width="26.6" height="26.7"/><rect class="c" x="106.4" y="53.4" width="26.6" height="26.7"/>
<rect class="c" x="0" y="80.1" width="26.6" height="26.7"/><rect class="c" x="26.6" y="80.1" width="26.6" height="26.7"/><rect class="c" x="53.2" y="80.1" width="26.6" height="26.7"/><rect class="c" x="79.8" y="80.1" width="26.6" height="26.7"/><rect class="c" x="106.4" y="80.1" width="26.6" height="26.7"/>
<rect class="c" x="0" y="106.8" width="26.6" height="26.7"/><rect class="c" x="26.6" y="106.8" width="26.6" height="26.7"/><rect class="c" x="53.2" y="106.8" width="26.6" height="26.7"/><rect class="c" x="79.8" y="106.8" width="26.6" height="26.7"/><rect class="c" x="106.4" y="106.8" width="26.6" height="26.7"/>
<text class="y" x="13.3" y="13.35">-12</text><text class="y" x="39.9" y="13.35">-12</text><text class="y" x="66.5" y="13.35">-9</text><text class="y" x="93.1" y="13.35">-6</text><text class="y" x="119.7" y="13.35">12</text>
<text class="y" x="13.3" y="40.05">12</text>
</g>
<g id="Y6" transform="translate(412.3,585.7)">
<rect class="c" x="0" y="0" width="26.6" height="26.7"/><rect class="c" x="26.6" y="0" width="26.6" height="26.7"/><rect class="c" x="53.2" y="0" width="26.6" height="26.7"/><rect class="c" x="79.8" y="0" width="26.6" height="26.7"/><rect class="c" x="106.4" y="0" width="26.6" height="26.7"/>
<rect class="c" x="0" y="26.7" width="26.6" height="26.7"/><rect class="g" x="26.6" y="26.7" width="26.6" height="26.7"/><rect class="c" x="53.2" y="26.7" width="26.6" height="26.7"/><rect class="c" x="79.8" y="26.7" width="26.6" height="26.7"/><rect class="c" x="106.4" y="26.7" width="26.6" height="26.7"/>
<rect class="c" x="0" y="53.4" width="26.6" height="26.7"/><rect class="c" x="26.6" y="53.4" width="26.6" height="26.7"/><rect class="c" x="53.2" y="53.4" width="26.6" height="26.7"/><rect class="c" x="79.8" y="53.4" width="26.6" height="26.7"/><rect class="c" x="106.4" y="53.4" width="26.6" height="26.7"/>
<rect class="c" x="0" y="80.1" width="26.6" height="26.7"/><rect class="c" x="26.6" y="80.1" width="26.6" height="26.7"/><rect class="c" x="53.2" y="80.1" width="26.6" height="26.7"/><rect class="c" x="79.8" y="80.1" width="26.6" height="26.7"/><rect class="c" x="106.4" y="80.1" width="26.6" height="26.7"/>
<rect class="c" x="0" y="106.8" width="26.6" height="26.7"/><rect class="c" x="26.6" y="106.8" width="26.6" height="26.7"/><rect class="c" x="53.2" y="106.8" width="26.6" height="26.7"/><rect class="c" x="79.8" y="106.8" width="26.6" height="26.7"/><rect class="c" x="106.4" y="106.8" width="26.6" height="26.7"/>
<text class="y" x="13.3" y="13.35">-12</text><text class="y" x="39.9" y="13.35">-12</text><text class="y" x="66.5" y="13.35">-9</text><text class="y" x="93.1" y="13.35">-6</text><text class="y" x="119.7" y="13.35">12</text>
<text class="y" x="13.3" y="40.05">12</text><text class="y" x="39.9" y="40.05">0</text>
</g>
<g id="Y7" transform="translate(669,585.7)">
<rect class="c" x="0" y="0" width="26.5" height="26.7"/><rect class="c" x="26.5" y="0" width="26.5" height="26.7"/><rect class="c" x="53" y="0" width="26.5" height="26.7"/><rect class="c" x="79.5" y="0" width="26.5" height="26.7"/><rect class="c" x="106" y="0" width="26.5" height="26.7"/>
<rect class="c" x="0" y="26.7" width="26.5" height="26.7"/><rect class="c" x="26.5" y="26.7" width="26.5" height="26.7"/><rect class="c" x="53" y="26.7" width="26.5" height="26.7"/><rect class="c" x="79.5" y="26.7" width="26.5" height="26.7"/><rect class="c" x="106" y="26.7" width="26.5" height="26.7"/>
<rect class="c" x="0" y="53.4" width="26.5" height="26.7"/><rect class="c" x="26.5" y="53.4" width="26.5" height="26.7"/><rect class="c" x="53" y="53.4" width="26.5" height="26.7"/><rect class="c" x="79.5" y="53.4" width="26.5" height="26.7"/><rect class="c" x="106" y="53.4" width="26.5" height="26.7"/>
<rect class="c" x="0" y="80.1" width="26.5" height="26.7"/><rect class="c" x="26.5" y="80.1" width="26.5" height="26.7"/><rect class="c" x="53" y="80.1" width="26.5" height="26.7"/><rect class="c" x="79.5" y="80.1" width="26.5" height="26.7"/><rect class="c" x="106" y="80.1" width="26.5" height="26.7"/>
<rect class="c" x="0" y="106.8" width="26.5" height="26.7"/><rect class="c" x="26.5" y="106.8" width="26.5" height="26.7"/><rect class="c" x="53" y="106.8" width="26.5" height="26.7"/><rect class="c" x="79.5" y="106.8" width="26.5" height="26.7"/><rect class="g" x="106" y="106.8" width="26.5" height="26.7"/>
<text class="y" x="13.25" y="13.35">-12</text><text class="y" x="39.75" y="13.35">-12</text><text class="y" x="66.25" y="13.35">-9</text><text class="y" x="92.75" y="13.35">-6</text><text class="y" x="119.25" y="13.35">12</text>
<text class="y" x="13.25" y="40.05">12</text><text class="y" x="39.75" y="40.05">0</text><text class="y" x="66.25" y="40.05">0</text><text class="y" x="92.75" y="40.05">0</text><text class="y" x="119.25" y="40.05">30</text>
<text class="y" x="13.25" y="66.75">27</text><text class="y" x="39.75" y="66.75">0</text><text class="y" x="66.25" y="66.75">0</text><text class="y" x="92.75" y="66.75">0</text><text class="y" x="119.25" y="66.75">45</text>
<text class="y" x="13.25" y="93.45">42</text><text class="y" x="39.75" y="93.45">0</text><text class="y" x="66.25" y="93.45">0</text><text class="y" x="92.75" y="93.45">0</text><text class="y" x="119.25" y="93.45">60</text>
<text class="y" x="13.25" y="120.15">108</text><text class="y" x="39.75" y="120.15">78</text><text class="y" x="66.25" y="120.15">81</text><text class="y" x="92.75" y="120.15">84</text><text class="y" x="119.25" y="120.15">132</text>
</g>

<!-- connectors -->
<g id="connectors">
<path class="a" d="M409,91 C392,135 377,200 415,229"/>
<path class="a" d="M582,95 C572,140 568,200 610,229"/>
<path class="a" d="M786,95 C775,140 775,200 815,229"/>
<path class="a" d="M1166,97 C1180,145 1176,200 1143,226"/>
<path class="a" d="M215,487 C200,530 195,585 226,616"/>
<path class="a" d="M438,487 C425,530 424,590 450,617"/>
<path class="a" d="M825,564 C836,610 836,670 801,698"/>
</g>

<!-- sigma labels -->
<text class="sig" x="406" y="204">Σ</text>
<text class="sig" x="600" y="204">Σ</text>
<text class="sig" x="804" y="204">Σ</text>
<text class="sig" x="1171" y="204">Σ</text>
<text class="sig" x="216" y="569">Σ</text>
<text class="sig" x="440" y="569">Σ</text>
<text class="sig" x="842" y="637">Σ</text>

<!-- ellipses -->
<g id="dots1"><circle class="dot" cx="923.3" cy="184.3" r="4"/><circle class="dot" cx="939.3" cy="184.3" r="4"/><circle class="dot" cx="955.3" cy="184.3" r="4"/></g>
<g id="dots2"><circle class="dot" cx="590" cy="554.3" r="4"/><circle class="dot" cx="606" cy="554.3" r="4"/><circle class="dot" cx="622" cy="554.3" r="4"/></g>
</svg>
